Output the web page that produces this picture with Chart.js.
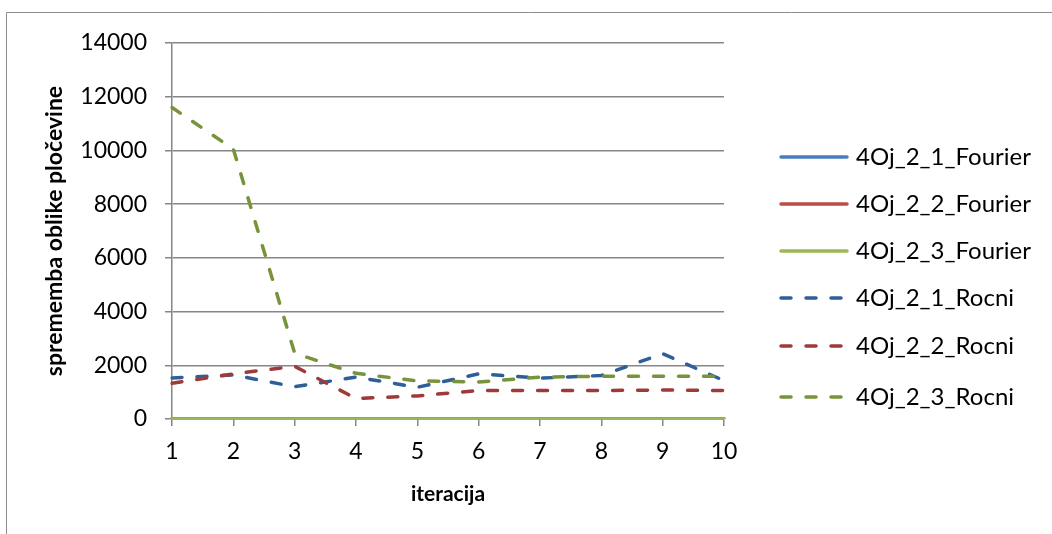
<!DOCTYPE html>
<html>
<head>
<meta charset="utf-8">
<script src="https://cdn.jsdelivr.net/npm/chart.js@4.4.1/dist/chart.umd.min.js"></script>
<style>
  html, body { margin: 0; padding: 0; background: #fff; }
  #wrap { width: 1052px; height: 534px; position: relative; }
</style>
</head>
<body>
<div id="wrap"><canvas id="myChart" width="1052" height="534"></canvas></div>
<script>
// iterations on the x axis
var iterations = ['1', '2', '3', '4', '5', '6', '7', '8', '9', '10'];

// Fourier runs stay at zero
var fourier1 = [0, 0, 0, 0, 0, 0, 0, 0, 0, 0];
var fourier2 = [0, 0, 0, 0, 0, 0, 0, 0, 0, 0];
var fourier3 = [0, 0, 0, 0, 0, 0, 0, 0, 0, 0];

// manual ("Rocni") runs
var rocni1 = [1530, 1640, 1200, 1560, 1180, 1680, 1520, 1620, 2430, 1430];
var rocni2 = [1330, 1680, 1960, 760, 860, 1060, 1060, 1060, 1080, 1060];
var rocni3 = [11600, 10050, 2450, 1700, 1420, 1380, 1560, 1590, 1590, 1590];

var seriesNames = ['4Oj_2_1_Fourier', '4Oj_2_2_Fourier', '4Oj_2_3_Fourier',
                   '4Oj_2_1_Rocni', '4Oj_2_2_Rocni', '4Oj_2_3_Rocni'];

var FONT = 'Lato, "Liberation Sans", sans-serif';
var GRID = '#868686';
var DASH = [10, 15];

function line(name, data, color, dashed, i) {
    return {
        label: name,
        data: data,
        borderColor: color,
        backgroundColor: color,
        borderWidth: 3.5,
        borderDash: dashed ? DASH : [],
        borderCapStyle: 'round',
        borderJoinStyle: 'round',
        pointRadius: 0,
        tension: 0,
        fill: false,
        order: 6 - i  // later series on top
    };
}

// frame and legend drawn by hand, Excel style
var excelLegend = {
    id: 'excelLegend',
    beforeDraw: function (chart) {
        var ctx = chart.ctx;
        ctx.save();
        ctx.strokeStyle = '#8c8c8c';
        ctx.lineWidth = 1;
        ctx.beginPath();
        ctx.moveTo(6.5, 600);
        ctx.lineTo(6.5, 12.5);
        ctx.lineTo(1100, 12.5);
        ctx.stroke();
        ctx.restore();
    },
    afterDraw: function (chart) {
        var ctx = chart.ctx;
        var rows = [157, 204, 251, 298, 346, 397];
        ctx.save();
        ctx.font = '24px ' + FONT;
        ctx.textBaseline = 'middle';
        ctx.fillStyle = '#000';
        chart.data.datasets.forEach(function (ds, i) {
            var y = rows[i];
            ctx.strokeStyle = ds.borderColor;
            ctx.lineWidth = 3.5;
            ctx.lineCap = 'round';
            ctx.setLineDash(ds.borderDash);
            ctx.beginPath();
            ctx.moveTo(781, y);
            ctx.lineTo(847, y);
            ctx.stroke();
            ctx.setLineDash([]);
            ctx.fillText(ds.label, 856, y);
        });
        ctx.restore();
    }
};

function createChart() {
    var ctx = document.getElementById('myChart');
    new Chart(ctx, {
        type: 'line',
        data: {
            labels: iterations,
            datasets: [
                line(seriesNames[0], fourier1, '#4A7EBB', false, 0),
                line(seriesNames[1], fourier2, '#BE4B48', false, 1),
                line(seriesNames[2], fourier3, '#98B954', false, 2),
                line(seriesNames[3], rocni1, '#2F5F98', true, 3),
                line(seriesNames[4], rocni2, '#9E3A38', true, 4),
                line(seriesNames[5], rocni3, '#77933C', true, 5)
            ]
        },
        options: {
            responsive: false,
            animation: false,
            layout: { padding: { left: 0, top: 43, right: 328, bottom: 0 } },
            plugins: {
                legend: { display: false },
                tooltip: { enabled: false }
            },
            scales: {
                x: {
                    offset: false,
                    grid: {
                        drawOnChartArea: false,
                        color: GRID,
                        tickLength: 7,
                        lineWidth: 1.5
                    },
                    border: { color: GRID, width: 1.5 },
                    ticks: {
                        color: '#000',
                        font: { family: FONT, size: 23 },
                        padding: 12,
                        maxRotation: 0
                    },
                    title: {
                        display: true,
                        text: 'iteracija',
                        color: '#000',
                        font: { family: FONT, size: 21, weight: 'bold' },
                        padding: { top: 4, bottom: 27 }
                    },
                    afterFit: function (scale) { scale.height = 115; }
                },
                y: {
                    min: 0,
                    max: 14000,
                    ticks: {
                        stepSize: 2000,
                        color: '#000',
                        font: { family: FONT, size: 23 },
                        padding: 18,
                        callback: function (v) { return String(v); }
                    },
                    grid: {
                        color: GRID,
                        tickLength: 7,
                        lineWidth: 1.5
                    },
                    border: { color: GRID, width: 1.5 },
                    title: {
                        display: true,
                        text: 'sprememba oblike pločevine',
                        color: '#000',
                        font: { family: FONT, size: 23, weight: 'bold' },
                        padding: { top: 41, bottom: 0 }
                    },
                    afterFit: function (scale) { scale.width = 172; }
                }
            }
        },
        plugins: [excelLegend]
    });
}

createChart();
</script>
</body>
</html>
